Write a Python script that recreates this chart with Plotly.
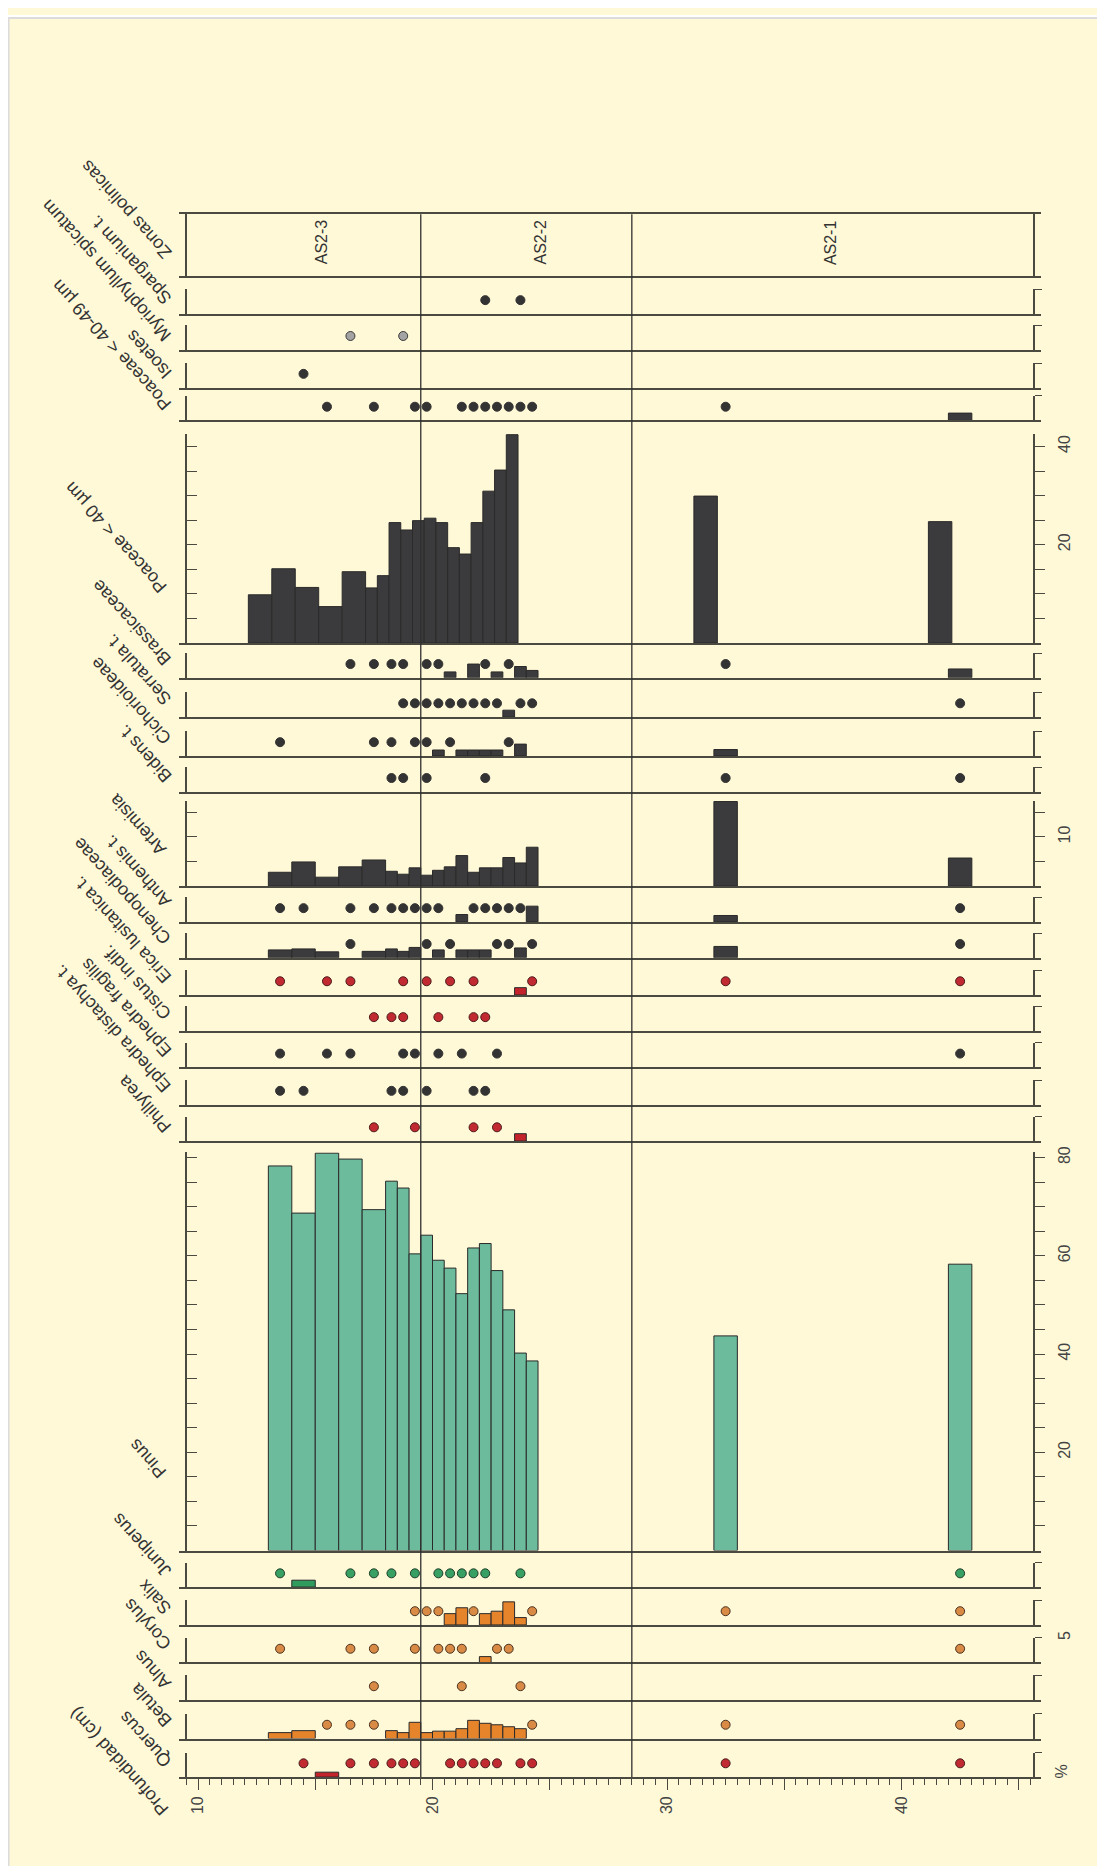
import plotly.graph_objects as go

W, H = 1105, 1866
PAGE_OFF = 8   # the page body margin shifts the figure by 8 px

# ------------------------------------------------------------------ data
# sample intervals (cm)
depth_top = [13, 14, 15, 16, 17, 18, 18.5, 19, 19.5, 20, 20.5, 21, 21.5, 22, 22.5, 23, 23.5, 24, 32, 42]
depth_bottom = [14, 15, 16, 17, 18, 18.5, 19, 19.5, 20, 20.5, 21, 21.5, 22, 22.5, 23, 23.5, 24, 24.5, 33, 43]

P = "+"   # presence (< 1 %)
N = None  # absent

sparganium = [N, N, N, N, N, N, N, N, N, N, N, N, N, P, N, N, P, N, N, N]
myriophyllum = [N, N, N, P, N, N, P, N, N, N, N, N, N, N, N, N, N, N, N, N]
isoetes = [N, P, N, N, N, N, N, N, N, N, N, N, N, N, N, N, N, N, N, N]
poaceae_4049 = [N, N, P, N, P, N, N, P, P, N, N, P, P, P, P, P, P, P, P, 1.5]
poaceae_40 = [9.8, 15.1, 11.3, 7.4, 14.5, 11.2, 13.7, 24.5, 23.0, 24.9, 25.4, 24.5, 19.4, 18.1, 24.5, 30.9, 35.2, 42.4, 29.9, 24.7]
brassicaceae = [N, N, N, P, P, P, P, N, P, P, 1.2, N, 2.8, P, 1.2, P, 2.3, 1.5, P, 1.8]
serratula = [N, N, N, N, N, N, P, P, P, P, P, P, P, P, P, 1.4, P, P, N, P]
cichorioideae = [P, N, N, N, P, P, N, P, P, 1.2, P, 1.2, 1.2, 1.2, 1.2, P, 2.4, N, 1.3, N]
bidens = [N, N, N, N, N, P, P, N, P, N, N, N, N, P, N, N, N, N, P, P]
artemisia = [2.8, 4.9, 1.8, 3.9, 5.3, 3.0, 2.4, 3.7, 2.2, 3.2, 3.9, 6.2, 2.8, 3.7, 3.7, 5.8, 4.7, 7.9, 17.2, 5.7]
anthemis = [P, P, N, P, P, P, P, P, P, P, N, 1.5, P, P, P, P, P, 3.2, 1.3, P]
chenopodiaceae = [1.6, 1.8, 1.2, P, 1.3, 1.8, 1.3, 2.1, P, 1.6, P, 1.6, 1.6, 1.6, P, P, 2.0, P, 2.3, P]
erica = [P, N, P, P, N, N, P, N, P, N, P, N, P, N, N, N, 1.5, P, P, P]
cistus = [N, N, N, N, P, P, P, N, N, P, N, N, P, P, N, N, N, N, N, N]
ephedra_fragilis = [P, N, P, P, N, N, P, P, N, P, N, P, N, N, P, N, N, N, N, P]
ephedra_distachya = [P, P, N, N, N, P, P, N, P, N, N, N, P, P, N, N, N, N, N, N]
phillyrea = [N, N, N, N, P, N, N, P, N, N, N, N, P, N, P, N, 1.5, N, N, N]
pinus = [78.3, 68.7, 80.9, 79.7, 69.4, 75.2, 73.8, 60.4, 64.2, 59.1, 57.5, 52.3, 61.6, 62.5, 57.0, 49.0, 40.2, 38.6, 43.7, 58.3]
juniperus = [P, 1.4, N, P, P, P, N, P, N, P, P, P, P, P, N, N, P, N, N, P]
salix = [N, N, N, N, N, N, N, P, P, P, 2.3, 3.5, P, 2.3, 2.8, 4.7, 1.5, P, P, P]
corylus = [P, N, N, P, P, N, N, P, N, P, P, P, N, 1.2, P, P, N, N, N, P]
alnus = [N, N, N, N, P, N, N, N, N, N, N, P, N, N, N, N, P, N, N, N]
betula = [1.2, 1.6, P, P, P, 1.6, 1.2, 3.3, 1.2, 1.5, 1.5, 2.0, 3.7, 3.1, 2.8, 2.4, 2.0, P, P, P]
quercus = [N, P, 1.0, P, P, P, P, P, N, N, P, P, P, P, P, N, P, P, P, P]

zone_bounds = [19.5, 28.5]
zone_names = ["AS2-3", "AS2-2", "AS2-1"]
depth_ticks = [10, 15, 20, 25, 30, 35, 40, 45]

# ------------------------------------------------------------------ style / layout
BG = "#fff9d8"
AX = "#4a4a40"
TXT = "#333333"
FONT = "Liberation Sans, Arial, sans-serif"
DOT_LEVEL = 2.8          # % height where presence dots are drawn
PX_PER_CM = 23.45
CM10_PX = 198


def px_to_depth(px):
    return 10 + (px - CM10_PX) / PX_PER_CM


X_PX = (179, 1041)
XRANGE = [px_to_depth(X_PX[0]), px_to_depth(X_PX[1])]
LEFT_PX, RIGHT_PX = 186, 1034
PCT_PX = 4.93


def fx(px):
    return (px - PAGE_OFF) / W


def fy(py):
    return 1 - (py - PAGE_OFF) / H


COL = {
    'dark': dict(bar='#3b3b3d', dot='#333333', edge='#333333'),
    'gray': dict(bar='#9e9e9e', dot='#a3a3a3', edge='#3a3a3a'),
    'red': dict(bar='#c4232b', dot='#c12a30', edge='#4a1c1c'),
    'teal': dict(bar='#6cbb9c', dot='#6cbb9c', edge='#2f3a33'),
    'green': dict(bar='#2f9b5c', dot='#38a062', edge='#1e3d2a'),
    'orange': dict(bar='#e6842c', dot='#d98a45', edge='#4a3320'),
}

# name, values, colour, baseline px, label anchor px, right-axis labels, x shift px
panels = [
    ("Sparganium t.", sparganium, 'dark', 308, 302, [], 0),
    ("Myriophyllum spicatum", myriophyllum, 'gray', 344, 339, [], 0),
    ("Isoetes", isoetes, 'dark', 382, 377, [], 0),
    ("Poaceae < 40-49 µm", poaceae_4049, 'dark', 415, 409, [], 0),
    ("Poaceae < 40 µm", poaceae_40, 'dark', 638.3, 592, [20, 40], -20),
    ("Brassicaceae", brassicaceae, 'dark', 673.3, 665, [], 0),
    ("Serratula t.", serratula, 'dark', 712.7, 704, [], 0),
    ("Cichorioideae", cichorioideae, 'dark', 751.7, 744, [], 0),
    ("Bidens t.", bidens, 'dark', 787.7, 782, [], 0),
    ("Artemisia", artemisia, 'dark', 882.3, 855, [10], 0),
    ("Anthemis t.", anthemis, 'dark', 918.3, 908, [], 0),
    ("Chenopodiaceae", chenopodiaceae, 'dark', 954.3, 944, [], 0),
    ("Erica lusitanica t.", erica, 'red', 991.7, 983, [], 0),
    ("Cistus indif.", cistus, 'red', 1027.7, 1020, [], 0),
    ("Ephedra fragilis", ephedra_fragilis, 'dark', 1064.3, 1057, [], 0),
    ("Ephedra distachya t.", ephedra_distachya, 'dark', 1101.7, 1093, [], 0),
    ("Phillyrea", phillyrea, 'red', 1138.3, 1133, [], 0),
    ("Pinus", pinus, 'teal', 1549.3, 1480, [20, 40, 60, 80], 0),
    ("Juniperus", juniperus, 'green', 1586, 1580, [], 0),
    ("Salix", salix, 'orange', 1624, 1617, [], 0),
    ("Corylus", corylus, 'orange', 1661.7, 1653, [5], 0),
    ("Alnus", alnus, 'orange', 1699.3, 1692, [], 0),
    ("Betula", betula, 'orange', 1738, 1730, [], 0),
    ("Quercus", quercus, 'red', 1776.7, 1771, [], 0),
]
ZONE_BOX = (208, 270)

centers = [(a + b) / 2 for a, b in zip(depth_top, depth_bottom)]
widths = [b - a for a, b in zip(depth_top, depth_bottom)]

fig = go.Figure()
layout = dict(
    width=W, height=H, margin=dict(l=0, r=0, t=0, b=0),
    paper_bgcolor=BG, plot_bgcolor='rgba(0,0,0,0)',
    showlegend=False, barmode='overlay', font=dict(family=FONT, color=TXT),
)
annotations = []
shapes = []

counter = {'x': 0, 'y': 0}


def new_axis(letter):
    counter[letter] += 1
    i = counter[letter]
    name = f"{letter}axis" if i == 1 else f"{letter}axis{i}"
    ref = letter if i == 1 else f"{letter}{i}"
    return name, ref


base_x = dict(range=XRANGE, domain=[fx(X_PX[0]), fx(X_PX[1])], showgrid=False,
              zeroline=False, fixedrange=True)
base_y = dict(showgrid=False, zeroline=False, fixedrange=True, showline=True,
              linecolor=AX, linewidth=1.5)

# ---- zone panel ----
zx_name, zx_ref = new_axis('x')
zyl_name, zyl_ref = new_axis('y')
zyr_name, zyr_ref = new_axis('y')
layout[zx_name] = dict(base_x, anchor=zyl_ref, showline=True, mirror=True, linecolor=AX,
                       linewidth=1.6, ticks='', showticklabels=False)
layout[zyl_name] = dict(base_y, domain=[fy(ZONE_BOX[1]), fy(ZONE_BOX[0])], range=[0, 1],
                        anchor='free', position=fx(LEFT_PX), ticks='', showticklabels=False)
layout[zyr_name] = dict(base_y, overlaying=zyl_ref, side='right', range=[0, 1],
                        anchor='free', position=fx(RIGHT_PX), ticks='', showticklabels=False)
fig.add_trace(go.Scatter(x=[None], y=[None], xaxis=zx_ref, yaxis=zyl_ref, hoverinfo='skip'))
fig.add_trace(go.Scatter(x=[None], y=[None], xaxis=zx_ref, yaxis=zyr_ref, hoverinfo='skip'))
zone_label_x = [15.25, 24.6, 36.95]
for name, zx in zip(zone_names, zone_label_x):
    annotations.append(dict(x=zx, xref=zx_ref, y=fy(236), yref='paper', text=name,
                            showarrow=False, textangle=-90, font=dict(size=16, color=TXT),
                            xanchor='center', yanchor='middle'))
annotations.append(dict(x=fx(178), y=fy(ZONE_BOX[1] - 11), xref='paper', yref='paper',
                        text="Zonas polinicas", showarrow=False, textangle=-132,
                        xanchor='right', yanchor='bottom', font=dict(size=18, color=TXT)))

main_x_ref = None
for k, (name, vals, ckey, base, lab_y, rlabels, shift) in enumerate(panels):
    col = COL[ckey]
    nums = [v for v in vals if isinstance(v, (int, float))]
    tall = max(nums) > 5 if nums else False
    ymax = (max(nums) + 0.2) if tall else 5.0
    top = base - ymax * PCT_PX
    last = (k == len(panels) - 1)

    xname, xref = new_axis('x')
    ylname, ylref = new_axis('y')
    yrname, yrref = new_axis('y')

    xa = dict(base_x, anchor=ylref, showline=True, linecolor=AX, linewidth=1.6)
    if last:
        main_x_ref = xref
        xa.update(ticks='outside', tickvals=depth_ticks,
                  ticktext=[str(t) if t % 10 == 0 else '' for t in depth_ticks],
                  ticklen=11, tickwidth=1.4, tickcolor=AX, tickangle=-90,
                  tickfont=dict(size=16, color='#444444'), showticklabels=True,
                  minor=dict(ticks='outside', dtick=0.5, tick0=0, ticklen=6,
                             tickwidth=1.2, tickcolor=AX))
    else:
        xa.update(ticks='', showticklabels=False)
    layout[xname] = xa

    if tall:
        tv = list(range(5, int(ymax) + 1, 5))
        tl_left, tl_right = 10, 10
    else:
        tv = [5]
        tl_left, tl_right = 6, 7
    layout[ylname] = dict(base_y, domain=[fy(base), fy(top)], range=[0, ymax],
                          anchor='free', position=fx(LEFT_PX), ticks='inside',
                          tickvals=tv, ticklen=tl_left, tickwidth=1.4, tickcolor=AX,
                          showticklabels=False)
    layout[yrname] = dict(base_y, overlaying=ylref, side='right', range=[0, ymax],
                          anchor='free', position=fx(RIGHT_PX), ticks='outside',
                          tickvals=tv, ticktext=[str(t) if t in rlabels else '' for t in tv],
                          ticklen=tl_right, tickwidth=1.4, tickcolor=AX,
                          showticklabels=True, tickangle=-90,
                          ticklabelstandoff=(6 if tall else 9),
                          tickfont=dict(size=16, color='#444444'))
    fig.add_trace(go.Scatter(x=[None], y=[None], xaxis=xref, yaxis=yrref, hoverinfo='skip'))

    bar_xref = xref
    if shift:
        sname, sref = new_axis('x')
        layout[sname] = dict(base_x, domain=[fx(X_PX[0] + shift), fx(X_PX[1] + shift)],
                             anchor=ylref, visible=False)
        bar_xref = sref

    bx = [c for c, v in zip(centers, vals) if isinstance(v, (int, float))]
    bw = [w for w, v in zip(widths, vals) if isinstance(v, (int, float))]
    by = [v for v in vals if isinstance(v, (int, float))]
    if by:
        fig.add_trace(go.Bar(x=bx, y=by, width=bw, xaxis=bar_xref, yaxis=ylref,
                             marker=dict(color=col['bar'], line=dict(color='#2a2a2a', width=1)),
                             hoverinfo='skip'))
    dx = [c for c, v in zip(centers, vals) if v == P]
    if dx:
        fig.add_trace(go.Scatter(x=dx, y=[DOT_LEVEL] * len(dx), mode='markers',
                                 xaxis=xref, yaxis=ylref, cliponaxis=False,
                                 marker=dict(size=9, color=col['dot'],
                                             line=dict(color=col['edge'], width=1)),
                                 hoverinfo='skip'))

    annotations.append(dict(x=fx(173 if tall else 178), y=fy(lab_y + 3), xref='paper',
                            yref='paper', text=name, showarrow=False, textangle=-132,
                            xanchor='right', yanchor='bottom', font=dict(size=18, color=TXT)))

annotations.append(dict(x=fx(176), y=fy(1822), xref='paper', yref='paper',
                        text="Profundidad (cm)", showarrow=False, textangle=-132,
                        xanchor='right', yanchor='bottom', font=dict(size=18, color=TXT)))
annotations.append(dict(x=fx(1061), y=fy(1771), xref='paper', yref='paper', text="%",
                        showarrow=False, textangle=-90, xanchor='center', yanchor='middle',
                        font=dict(size=16, color='#444444')))

# zone boundaries through the whole diagram
for zb in zone_bounds:
    shapes.append(dict(type='line', xref=main_x_ref, yref='paper', x0=zb, x1=zb,
                       y0=fy(panels[-1][3]), y1=fy(ZONE_BOX[0]),
                       line=dict(color='#2f2f2f', width=1.3), layer='above'))

# white strip at the top of the page and light frame line
shapes.append(dict(type='rect', xref='paper', yref='paper', x0=0, x1=1, y0=fy(11), y1=1,
                   fillcolor='white', line=dict(width=0), layer='below'))
shapes.append(dict(type='line', xref='paper', yref='paper', x0=0, x1=1, y0=fy(11), y1=fy(11),
                   line=dict(color='#dcdcdc', width=2), layer='below'))
shapes.append(dict(type='line', xref='paper', yref='paper', x0=0.0005, x1=0.0005, y0=0,
                   y1=fy(11), line=dict(color='#dcdcdc', width=2), layer='below'))

layout['annotations'] = annotations
layout['shapes'] = shapes
fig.update_layout(**layout)
fig.write_html("out.html")
